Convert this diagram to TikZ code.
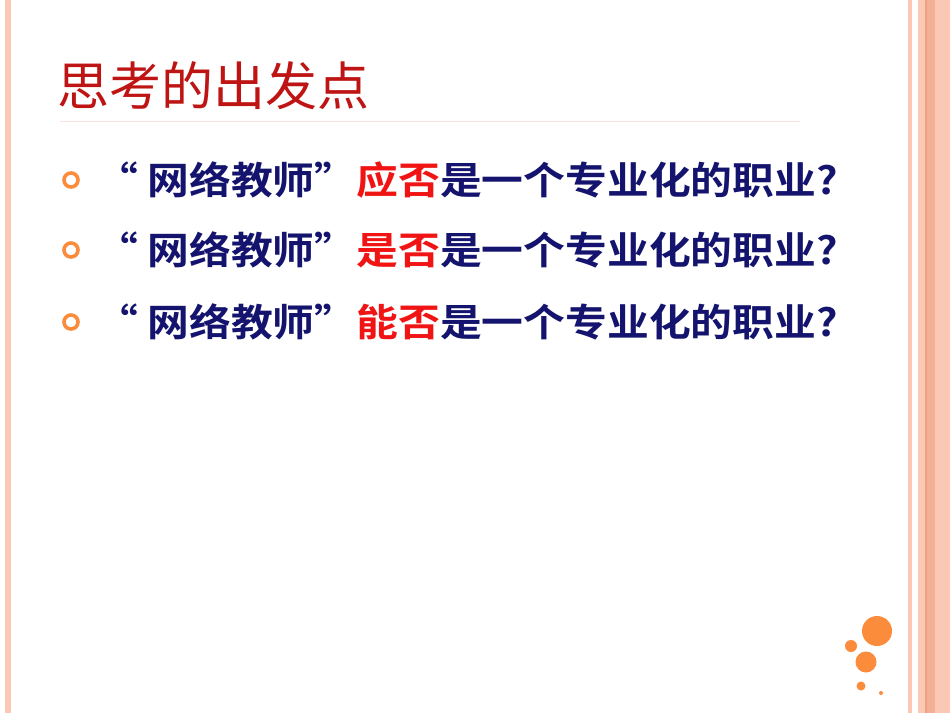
\documentclass[tikz,border=0pt]{standalone}
\usepackage{fontspec}
\newfontfamily\cjk{Noto Sans CJK SC}
\newfontfamily\cjkbold[FakeStretch=1.1]{Noto Sans CJK SC Bold}
\definecolor{stripe}{RGB}{250,200,180}
\definecolor{stripedark}{RGB}{240,160,130}
\definecolor{dotorange}{RGB}{250,140,60}
\definecolor{titlered}{RGB}{190,20,20}
\definecolor{navy}{RGB}{20,20,110}
\definecolor{hot}{RGB}{240,20,20}
\begin{document}
\begin{tikzpicture}[x=1pt,y=-1pt,
  item/.style={anchor=west,inner sep=0pt,font=\cjkbold\fontsize{38}{38}\selectfont,text=navy},
  bullet/.style={draw=dotorange,line width=3.6pt,circle,minimum size=14pt,inner sep=0pt}]

% Page and side stripes
\useasboundingbox (0,0) rectangle (950,713);
\fill[white] (0,0) rectangle (950,713);
\fill[stripe] (5,0) rectangle (11,713);
\fill[stripe] (908,0) rectangle (912,713);
\fill[stripe] (918,0) rectangle (950,713);
\fill[stripedark] (925,0) rectangle (927,713);
\fill[stripedark!60!stripe] (927,0) rectangle (935,713);

% Title and rule
\node[anchor=west,inner sep=0pt,font=\cjk\fontsize{52}{52}\selectfont,text=titlered] (title) at (57,86) {思考的出发点};
\draw[stripe!50,line width=0.8pt] (60,121) -- (800,121);

% Questions
\foreach \y/\w [count=\i] in {180/应否,250/是否,322/能否}{
  \node[bullet] (b\i) at (71,\y) {};
  \node[item] (q\i) at (96,\y) {“ 网络教师”\textcolor{hot}{\w}是一个专业化的职业?};
}

% Decorative dots
\fill[dotorange] (877,631) circle (15);
\fill[dotorange] (851,646) circle (6);
\fill[dotorange] (866,662) circle (10.5);
\fill[dotorange] (861,686) circle (4.5);
\fill[dotorange] (881,693) circle (2);
\end{tikzpicture}
\end{document}
